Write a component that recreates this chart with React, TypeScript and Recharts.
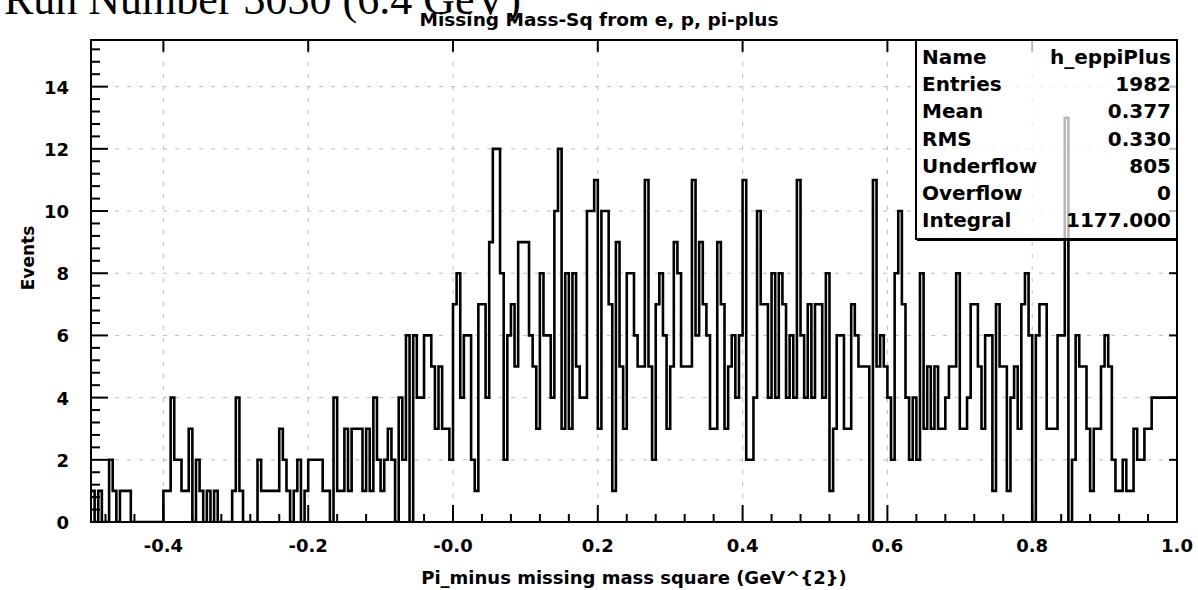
import React from 'react'
import { LineChart, Line, XAxis, YAxis, ReferenceLine, ReferenceArea } from 'recharts'

// histogram h_eppiPlus: 300 bins, -0.5 .. 1.0 (width 0.005)
const BIN_LOW = -0.5
const BIN_WIDTH = 0.005

const COUNTS_1 = [
  1, 0, 1, 0, 0, 2, 1, 0, 1, 1,
  1, 0, 0, 0, 0, 0, 0, 0, 0, 0,
  1, 1, 4, 2, 2, 1, 1, 3, 0, 2,
  1, 0, 1, 0, 1, 0, 0, 0, 0, 1,
  4, 1, 0, 0, 0, 0, 2, 1, 1, 1,
  1, 1, 3, 2, 1, 0, 1, 2, 0, 1,
  2, 2, 2, 2, 1, 1, 0, 4, 1, 1,
  3, 1, 3, 3, 3, 1, 3, 1, 4, 2,
  1, 2, 3, 2, 0, 4, 2, 6, 0, 6,
  4, 4, 6, 6, 5, 3, 5, 3, 3, 2,
]
const COUNTS_2 = [
  7, 8, 4, 6, 6, 2, 1, 7, 7, 4,
  9, 12, 12, 8, 2, 6, 7, 5, 9, 9,
  9, 6, 5, 3, 8, 6, 6, 4, 10, 12,
  3, 8, 3, 8, 5, 4, 4, 10, 10, 11,
  3, 10, 10, 7, 1, 9, 5, 3, 8, 8,
  6, 5, 5, 11, 5, 2, 7, 8, 6, 3,
  5, 9, 8, 5, 5, 5, 11, 6, 9, 7,
  6, 3, 3, 9, 7, 3, 5, 6, 4, 6,
  11, 2, 2, 4, 10, 7, 7, 4, 8, 4,
  8, 7, 4, 6, 4, 11, 6, 4, 7, 4,
]
const COUNTS_3 = [
  7, 7, 4, 8, 1, 3, 6, 6, 3, 3,
  7, 6, 5, 5, 5, 0, 11, 5, 6, 5,
  4, 2, 8, 10, 7, 4, 2, 4, 2, 8,
  3, 5, 3, 5, 3, 3, 4, 5, 5, 8,
  3, 3, 4, 7, 7, 5, 3, 6, 6, 1,
  7, 5, 5, 1, 4, 5, 3, 7, 8, 6,
  0, 6, 7, 7, 3, 3, 3, 6, 6, 13,
  0, 2, 6, 5, 5, 3, 1, 3, 3, 5,
  6, 5, 2, 1, 1, 2, 1, 1, 3, 2,
  2, 3, 3, 4, 4, 4, 4, 4, 4, 4,
]

const X_MAJOR = [-0.4, -0.2, 0, 0.2, 0.4, 0.6, 0.8, 1.0]
const X_LABELS = ['-0.4', '-0.2', '-0.0', '0.2', '0.4', '0.6', '0.8', '1.0']
const Y_MAJOR = [0, 2, 4, 6, 8, 10, 12, 14]
const Y_LABELS = ['0', '2', '4', '6', '8', '10', '12', '14']

const STAT_NAMES = ['Name', 'Entries', 'Mean', 'RMS', 'Underflow', 'Overflow', 'Integral']
const STAT_VALUES = ['h_eppiPlus', '1982', '0.377', '0.330', '805', '0', '1177.000']

const TITLE = 'Missing Mass-Sq from e, p, pi-plus'
const X_TITLE = 'Pi_minus missing mass square (GeV^{2})'
const Y_TITLE = 'Events'
const RUN_TEXT = 'Run Number 3030 (6.4 GeV)'

const FONT = '"DejaVu Sans", sans-serif'
const Y_TOP = 15.5

const counts = [...COUNTS_1, ...COUNTS_2, ...COUNTS_3]
const data = counts.map((n, i) => ({ x: +(BIN_LOW + i * BIN_WIDTH).toFixed(3), n }))
data.push({ x: 1.0, n: counts[counts.length - 1] })

// minor ticks: 5 divisions per major
const xTicks: number[] = []
for (let k = 0; k <= 37; k++) xTicks.push(+(-0.48 + k * 0.04).toFixed(2))
const yTicks: number[] = []
for (let k = 0; k <= 38; k++) yTicks.push(+(k * 0.4).toFixed(1))

const near = (a: number, b: number) => Math.abs(a - b) < 1e-6

const XTick = (props: any) => {
  const { x, y, payload } = props
  const idx = X_MAJOR.findIndex(v => near(v, payload.value))
  const major = idx >= 0
  return (
    <g>
      <line x1={x} x2={x} y1={y} y2={y - (major ? 17 : 8)} stroke="#000" strokeWidth={2} />
      {major && (
        <text x={x} y={y + 30} textAnchor="middle" fontFamily={FONT} fontWeight="bold" fontSize={18} fill="#000">
          {X_LABELS[idx]}
        </text>
      )}
    </g>
  )
}

const YTick = (props: any) => {
  const { x, y, payload } = props
  const idx = Y_MAJOR.findIndex(v => near(v, payload.value))
  const major = idx >= 0
  return (
    <g>
      <line x1={x} x2={x + (major ? 17 : 9)} y1={y} y2={y} stroke="#000" strokeWidth={2} />
      {major && (
        <text x={x - 22} y={y + 7} textAnchor="end" fontFamily={FONT} fontWeight="bold" fontSize={18} fill="#000">
          {Y_LABELS[idx]}
        </text>
      )}
    </g>
  )
}

export default function App() {
  return (
    <div style={{ position: 'absolute', left: 0, top: 0, width: 1198, height: 590, background: '#fff', overflow: 'hidden' }}>
      <LineChart width={1198} height={590} data={data} margin={{ top: 40, right: 21, bottom: 38, left: 1 }}>
        <XAxis
          type="number"
          dataKey="x"
          domain={[-0.5, 1.0]}
          ticks={xTicks}
          interval={0}
          height={30}
          tick={<XTick />}
          tickSize={0}
          tickMargin={0}
          tickLine={false}
          axisLine={false}
          allowDataOverflow
        />
        <YAxis
          type="number"
          domain={[0, Y_TOP]}
          ticks={yTicks}
          interval={0}
          width={90}
          tick={<YTick />}
          tickSize={0}
          tickMargin={0}
          tickLine={false}
          axisLine={false}
          allowDataOverflow
        />
        {Y_MAJOR.slice(1).map(v => (
          <ReferenceLine key={'gy' + v} y={v} stroke="#bdbdbd" strokeDasharray="4 8" />
        ))}
        {X_MAJOR.slice(0, -1).map(v => (
          <ReferenceLine key={'gx' + v} x={v} stroke="#bdbdbd" strokeDasharray="4 8" />
        ))}
        {/* short ticks on the top and right frame edges */}
        {X_MAJOR.slice(0, -1).map(v => (
          <ReferenceLine key={'tt' + v} segment={[{ x: v, y: Y_TOP }, { x: v, y: Y_TOP - 0.38 }]} stroke="#000" strokeWidth={2} />
        ))}
        {Y_MAJOR.slice(1).map(v => (
          <ReferenceLine key={'rt' + v} segment={[{ x: 1.0, y: v }, { x: 0.989, y: v }]} stroke="#000" strokeWidth={2} />
        ))}
        <Line
          type="stepAfter"
          dataKey="n"
          stroke="#000"
          strokeWidth={2.6}
          dot={false}
          isAnimationActive={false}
        />
        <ReferenceArea x1={-0.5} x2={1.0} y1={0} y2={Y_TOP} fill="none" stroke="#000" strokeWidth={2} ifOverflow="visible" />
      </LineChart>

      <svg width={1198} height={590} style={{ position: 'absolute', left: 0, top: 0, pointerEvents: 'none' }}>
        <text x={4} y={14} fontFamily='"Liberation Serif", serif' fontSize={44} fill="#000">{RUN_TEXT}</text>
        <text x={599} y={26} textAnchor="middle" fontFamily={FONT} fontWeight="bold" fontSize={18.5} fill="#000">{TITLE}</text>
        <text x={634} y={584} textAnchor="middle" fontFamily={FONT} fontWeight="bold" fontSize={18} fill="#000">{X_TITLE}</text>
        <text x={34} y={258} textAnchor="middle" fontFamily={FONT} fontWeight="bold" fontSize={17} fill="#000" transform="rotate(-90 34 258)">{Y_TITLE}</text>

        <rect x={916} y={40} width={261} height={199} fill="#fff" fillOpacity={0.72} stroke="#000" strokeWidth={2} />
        <line x1={917} x2={1177} y1={240} y2={240} stroke="#000" strokeWidth={2} />
        {STAT_NAMES.map((s, i) => (
          <g key={s}>
            <text x={922} y={64 + i * 27.2} fontFamily={FONT} fontWeight="bold" fontSize={20} fill="#000">{s}</text>
            <text x={1171} y={64 + i * 27.2} textAnchor="end" fontFamily={FONT} fontWeight="bold" fontSize={20} fill="#000">{STAT_VALUES[i]}</text>
          </g>
        ))}
      </svg>
    </div>
  )
}
